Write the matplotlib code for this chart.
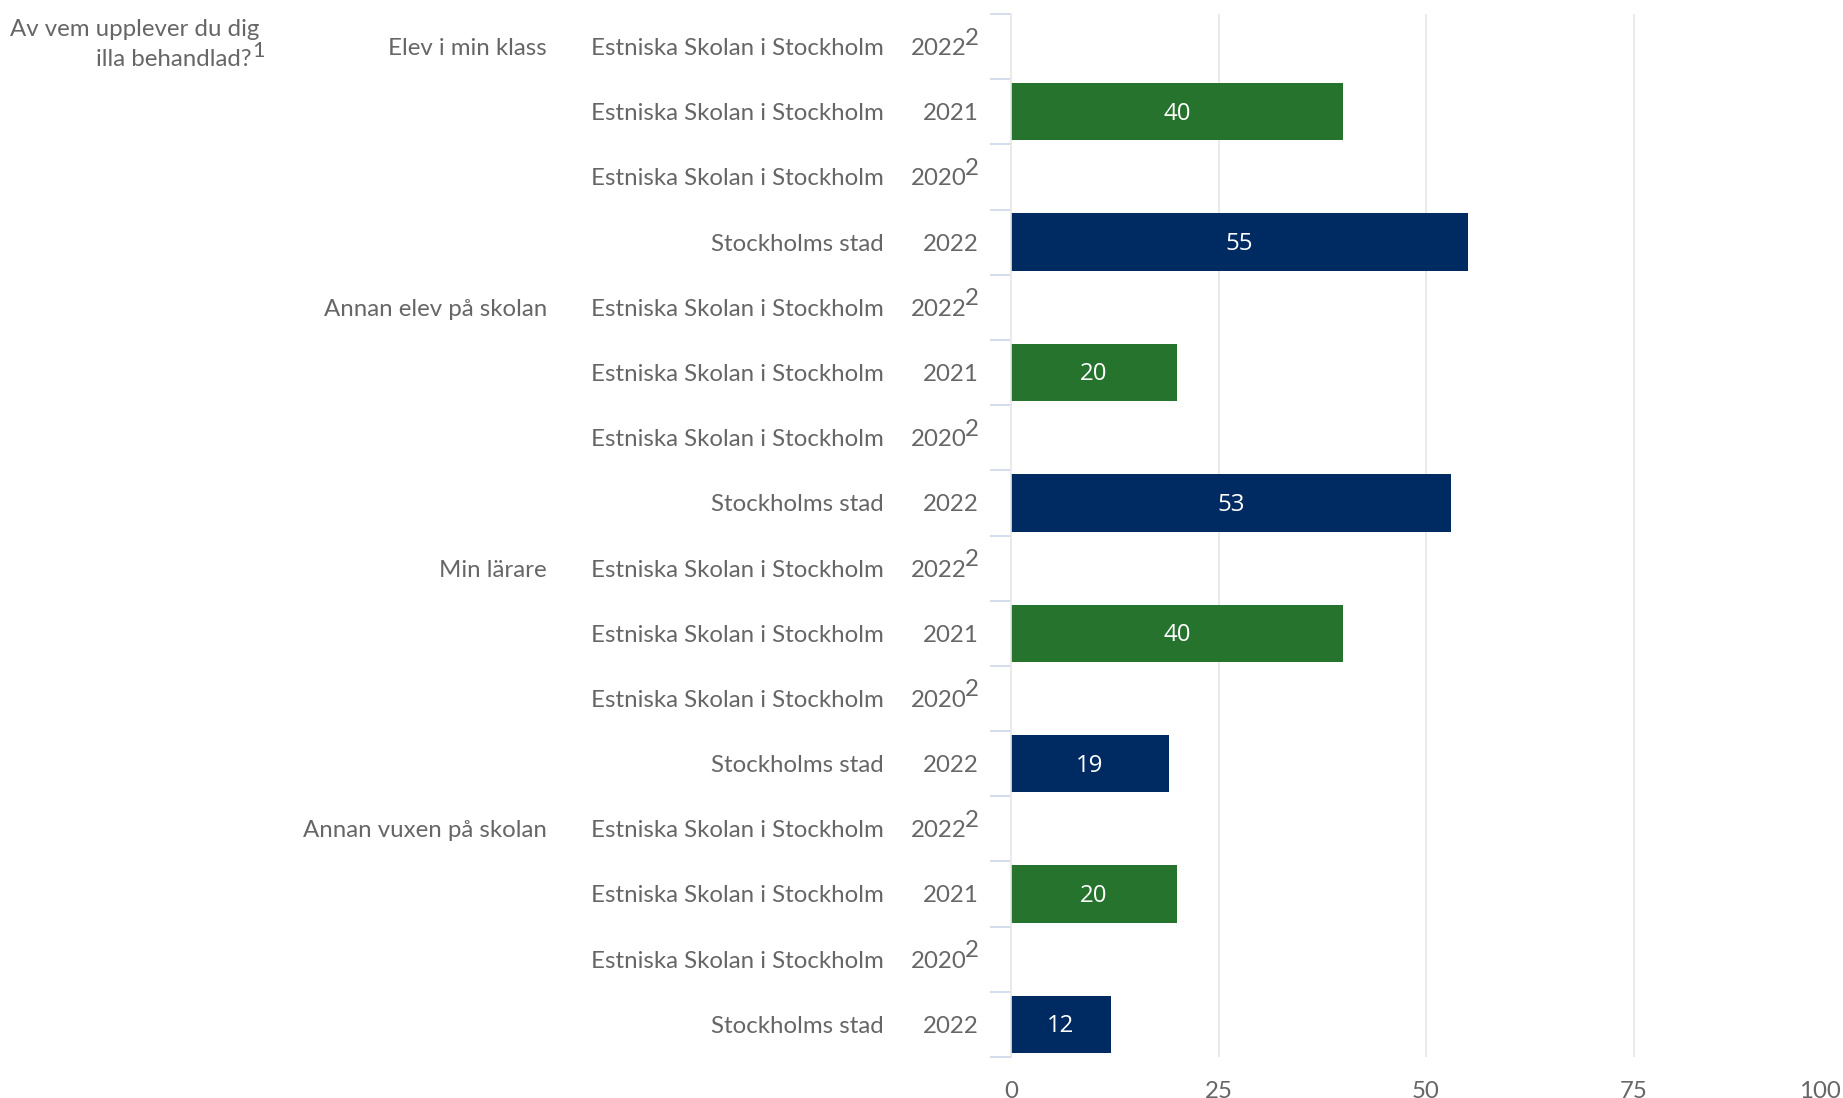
# Bar chart: Av vem upplever du dig illa behandlad?
import matplotlib.pyplot as plt
import matplotlib.transforms as mtransforms
import numpy as np

groups = ["Elev i min klass", "Annan elev på skolan", "Min lärare", "Annan vuxen på skolan"]
units = ["Estniska Skolan i Stockholm", "Estniska Skolan i Stockholm",
         "Estniska Skolan i Stockholm", "Stockholms stad"]
years = ["2022", "2021", "2020", "2022"]
footnote = [True, False, True, False]
values = [
    [None, 40, None, 55],
    [None, 20, None, 53],
    [None, 40, None, 19],
    [None, 20, None, 12],
]
unit_colors = {"Estniska Skolan i Stockholm": "#26732e", "Stockholms stad": "#002b62"}
xticks = [0, 25, 50, 75, 100]

W, H = 1843, 1098
txt = "#666666"
font = "Lato"
fs = 17.3

fig = plt.figure(figsize=(W / 100, H / 100), dpi=100)
ax = fig.add_axes([1011 / W, (H - 1057) / H, (1841 - 1011) / W, 1043 / H])

n_rows = len(groups) * len(units)
ax.set_xlim(0, 100)
ax.set_ylim(n_rows - 0.5, -0.5)

# gridlines
for x in xticks[1:-1]:
    ax.axvline(x, color="#e6e6e6", lw=1.2, zorder=0)

row = 0
for g, grp in enumerate(groups):
    for u, unit in enumerate(units):
        v = values[g][u]
        if v is not None:
            ax.barh(row, v, height=0.88, color=unit_colors[unit], zorder=2)
            ax.text(v / 2, row + 0.03, str(v), color="white", ha="center", va="center",
                    fontsize=fs, family="Open Sans", zorder=3)
        row += 1

# category labels (three levels)
tr = mtransforms.blended_transform_factory(fig.transFigure, ax.transData)
dy = 0.03
row = 0
for g, grp in enumerate(groups):
    fig.text(547 / W, row + dy, grp, transform=tr, ha="right", va="center",
             color=txt, fontsize=fs, family=font)
    for u, unit in enumerate(units):
        fig.text(884 / W, row + u + dy, unit, transform=tr, ha="right", va="center",
                 color=txt, fontsize=fs, family=font)
        if footnote[u]:
            fig.text(967 / W, row + u + dy, years[u], transform=tr, ha="right", va="center",
                     color=txt, fontsize=fs, family=font)
            fig.text(979 / W, row + u + dy - 0.16, "2", transform=tr, ha="right", va="center",
                     color=txt, fontsize=fs, family=font)
        else:
            fig.text(979 / W, row + u + dy, years[u], transform=tr, ha="right", va="center",
                     color=txt, fontsize=fs, family=font)
    row += len(units)

# title
fig.text(259 / W, 1 - 29 / H, "Av vem upplever du dig", ha="right", va="center",
         color=txt, fontsize=fs, family=font)
fig.text(251 / W, 1 - 60 / H, "illa behandlad?", ha="right", va="center",
         color=txt, fontsize=fs, family=font)
fig.text(252 / W, 1 - 51 / H, "1", ha="left", va="center",
         color=txt, fontsize=fs * 0.9, family=font)

# axes styling
for s in ["top", "right", "bottom"]:
    ax.spines[s].set_visible(False)
ax.spines["left"].set_color("#e6e6e6")
ax.spines["left"].set_linewidth(1.2)
ax.set_yticks([])
ax.set_yticks(np.arange(-0.5, n_rows, 1.0), minor=True)
ax.tick_params(axis="y", which="minor", length=15, width=1.2, color="#ccd6eb")
ax.set_xticks(xticks)
ax.set_xticklabels([str(x) for x in xticks], color=txt, fontsize=fs, family=font)
ax.tick_params(axis="x", length=0, pad=17)
ax.get_xticklabels()[-1].set_ha("right")

fig.savefig("out.png", dpi=100)
